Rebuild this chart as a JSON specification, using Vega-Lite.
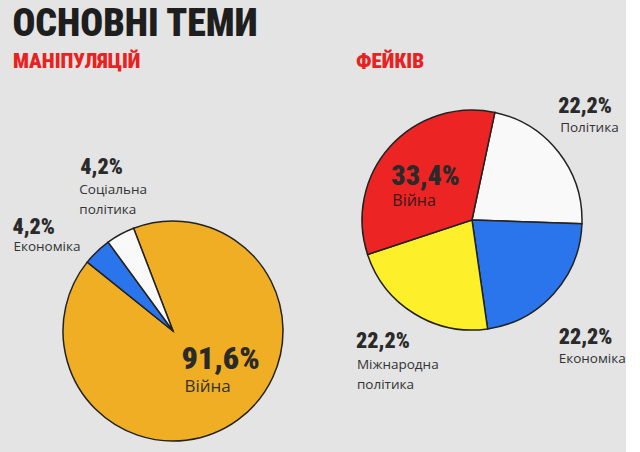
{
  "$schema": "https://vega.github.io/schema/vega-lite/v6.json",
  "background": "#e4e4e4",
  "padding": {"left": 12, "top": 6, "right": 0, "bottom": 0},
  "spacing": 23,
  "bounds": "flush",
  "config": {"view": {"stroke": null}},
  "title": {"text": "ОСНОВНІ ТЕМИ", "anchor": "start", "fontSize": 38, "font": "Noto Sans ExtraCondensed, Noto Sans Condensed, Roboto Condensed, Roboto", "fontWeight": 900, "color": "#1e1e1e", "offset": 7},
  "resolve": {"scale": {"theta": "independent", "color": "independent"}},
  "datasets": {
    "manip": [
      {"topic": "Війна", "value": 91.6, "o": 1, "pct": "91,6%", "name": "Війна"},
      {"topic": "Економіка", "value": 4.2, "o": 2, "pct": "4,2%", "name": "Економіка"},
      {"topic": "Соціальна політика", "value": 4.2, "o": 3, "pct": "4,2%", "name": ["Соціальна", "політика"]}
    ],
    "fake": [
      {"topic": "Політика", "value": 22.2, "o": 1, "pct": "22,2%", "name": "Політика"},
      {"topic": "Економіка", "value": 22.2, "o": 2, "pct": "22,2%", "name": "Економіка"},
      {"topic": "Міжнародна політика", "value": 22.2, "o": 3, "pct": "22,2%", "name": ["Міжнародна", "політика"]},
      {"topic": "Війна", "value": 33.4, "o": 4, "pct": "33,4%", "name": "Війна"}
    ]
  },
  "hconcat": [
    {
      "width": 320,
      "height": 502,
      "title": {"text": "МАНІПУЛЯЦІЙ", "anchor": "start", "frame": "group", "fontSize": 21, "font": "Noto Sans ExtraCondensed, Noto Sans Condensed, Roboto Condensed, Roboto", "fontWeight": 900, "color": "#e8231f", "offset": 8},
      "data": {"name": "manip"},
      "encoding": {
        "theta": {"field": "value", "type": "quantitative", "stack": true, "scale": {"range": [-0.3665, 5.9167]}},
        "order": {"field": "o", "type": "quantitative"}
      },
      "layer": [
        {
          "mark": {"type": "arc", "outerRadius": 110, "stroke": "#222222", "strokeWidth": 1.5},
          "encoding": {
            "color": {"field": "topic", "type": "nominal", "legend": null, "scale": {"domain": ["Війна", "Економіка", "Соціальна політика"], "range": ["#f0ae24", "#2a74ec", "#f9f9f9"]}}
          }
        },
        {
          "mark": {"type": "text", "radius": 50, "dx": -21, "dy": -12, "align": "left", "baseline": "middle", "fontSize": 32, "fontWeight": 900, "font": "Noto Sans ExtraCondensed, Noto Sans Condensed, Roboto Condensed, Roboto", "color": "#2a2a2a"},
          "encoding": {"text": {"condition": {"test": "datum.topic === 'Війна'", "field": "pct"}, "value": ""}}
        },
        {
          "mark": {"type": "text", "radius": 50, "dx": -18, "dy": 16, "align": "left", "baseline": "middle", "fontSize": 17, "font": "Open Sans", "color": "#333333"},
          "encoding": {"text": {"condition": {"test": "datum.topic === 'Війна'", "field": "name"}, "value": ""}}
        },
        {
          "mark": {"type": "text", "radius": 150, "dx": -57, "dy": 4, "align": "left", "baseline": "middle", "fontSize": 22, "fontWeight": 900, "font": "Noto Sans ExtraCondensed, Noto Sans Condensed, Roboto Condensed, Roboto", "color": "#2a2a2a"},
          "encoding": {"text": {"condition": {"test": "datum.topic === 'Економіка'", "field": "pct"}, "value": ""}}
        },
        {
          "mark": {"type": "text", "radius": 150, "dx": -56, "dy": 24, "align": "left", "baseline": "middle", "fontSize": 13.5, "font": "Open Sans", "color": "#333333"},
          "encoding": {"text": {"condition": {"test": "datum.topic === 'Економіка'", "field": "name"}, "value": ""}}
        },
        {
          "mark": {"type": "text", "radius": 150, "dx": -21, "dy": -32, "align": "left", "baseline": "middle", "fontSize": 22, "fontWeight": 900, "font": "Noto Sans ExtraCondensed, Noto Sans Condensed, Roboto Condensed, Roboto", "color": "#2a2a2a"},
          "encoding": {"text": {"condition": {"test": "datum.topic === 'Соціальна політика'", "field": "pct"}, "value": ""}}
        },
        {
          "mark": {"type": "text", "radius": 150, "dx": -22, "dy": -9, "align": "left", "baseline": "middle", "lineHeight": 20, "fontSize": 13.5, "font": "Open Sans", "color": "#333333"},
          "encoding": {"text": {"condition": {"test": "datum.topic === 'Соціальна політика'", "field": "name"}, "value": ""}}
        }
      ]
    },
    {
      "width": 232,
      "height": 280,
      "title": {"text": "ФЕЙКІВ", "anchor": "start", "frame": "group", "fontSize": 21, "font": "Noto Sans ExtraCondensed, Noto Sans Condensed, Roboto Condensed, Roboto", "fontWeight": 900, "color": "#e8231f", "offset": 8},
      "data": {"name": "fake"},
      "encoding": {
        "theta": {"field": "value", "type": "quantitative", "stack": true, "scale": {"range": [0.2094, 6.4926]}},
        "order": {"field": "o", "type": "quantitative"}
      },
      "layer": [
        {
          "mark": {"type": "arc", "outerRadius": 110, "stroke": "#222222", "strokeWidth": 1.5},
          "encoding": {
            "color": {"field": "topic", "type": "nominal", "legend": null, "scale": {"domain": ["Політика", "Економіка", "Міжнародна політика", "Війна"], "range": ["#f9f9f9", "#2a74ec", "#fdef2a", "#ec2424"]}}
          }
        },
        {
          "mark": {"type": "text", "radius": 150, "dx": -32, "dy": -22, "align": "left", "baseline": "middle", "fontSize": 22, "fontWeight": 900, "font": "Noto Sans ExtraCondensed, Noto Sans Condensed, Roboto Condensed, Roboto", "color": "#2a2a2a"},
          "encoding": {"text": {"condition": {"test": "datum.topic === 'Політика'", "field": "pct"}, "value": ""}}
        },
        {
          "mark": {"type": "text", "radius": 150, "dx": -30, "dy": 0, "align": "left", "baseline": "middle", "fontSize": 13.5, "font": "Open Sans", "color": "#333333"},
          "encoding": {"text": {"condition": {"test": "datum.topic === 'Політика'", "field": "name"}, "value": ""}}
        },
        {
          "mark": {"type": "text", "radius": 150, "dx": -25, "dy": 17, "align": "left", "baseline": "middle", "fontSize": 22, "fontWeight": 900, "font": "Noto Sans ExtraCondensed, Noto Sans Condensed, Roboto Condensed, Roboto", "color": "#2a2a2a"},
          "encoding": {"text": {"condition": {"test": "datum.topic === 'Економіка'", "field": "pct"}, "value": ""}}
        },
        {
          "mark": {"type": "text", "radius": 150, "dx": -25, "dy": 39, "align": "left", "baseline": "middle", "fontSize": 13.5, "font": "Open Sans", "color": "#333333"},
          "encoding": {"text": {"condition": {"test": "datum.topic === 'Економіка'", "field": "name"}, "value": ""}}
        },
        {
          "mark": {"type": "text", "radius": 150, "dx": -37, "dy": -6, "align": "left", "baseline": "middle", "fontSize": 22, "fontWeight": 900, "font": "Noto Sans ExtraCondensed, Noto Sans Condensed, Roboto Condensed, Roboto", "color": "#2a2a2a"},
          "encoding": {"text": {"condition": {"test": "datum.topic === 'Міжнародна політика'", "field": "pct"}, "value": ""}}
        },
        {
          "mark": {"type": "text", "radius": 150, "dx": -36, "dy": 18, "align": "left", "baseline": "middle", "lineHeight": 20, "fontSize": 13.5, "font": "Open Sans", "color": "#333333"},
          "encoding": {"text": {"condition": {"test": "datum.topic === 'Міжнародна політика'", "field": "name"}, "value": ""}}
        },
        {
          "mark": {"type": "text", "radius": 60, "dx": -36, "dy": -3, "align": "left", "baseline": "middle", "fontSize": 28, "fontWeight": 900, "font": "Noto Sans ExtraCondensed, Noto Sans Condensed, Roboto Condensed, Roboto", "color": "#2a2a2a"},
          "encoding": {"text": {"condition": {"test": "datum.topic === 'Війна'", "field": "pct"}, "value": ""}}
        },
        {
          "mark": {"type": "text", "radius": 60, "dx": -35, "dy": 21, "align": "left", "baseline": "middle", "fontSize": 16, "font": "Open Sans", "color": "#3a1a1a"},
          "encoding": {"text": {"condition": {"test": "datum.topic === 'Війна'", "field": "name"}, "value": ""}}
        }
      ]
    }
  ]
}
